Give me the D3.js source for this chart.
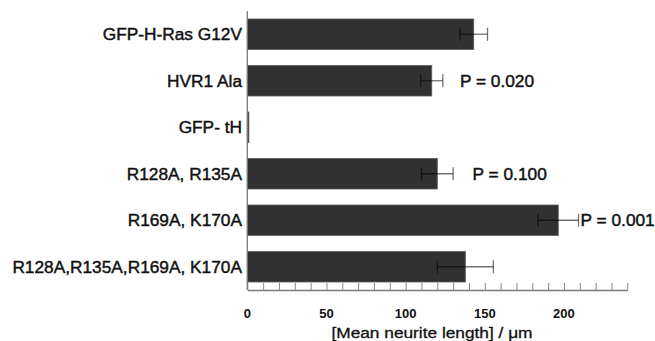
<!DOCTYPE html>
<html>
<head>
<meta charset="utf-8">
<script src="https://cdn.jsdelivr.net/npm/d3@7"></script>
<style>
html,body{margin:0;padding:0;background:#fff;}
svg{display:block;}
text{font-family:"Liberation Sans",Arial,Helvetica,sans-serif;fill:#111;}
</style>
</head>
<body>
<svg id="chart" width="655" height="341"></svg>
<script>
const categories = ["GFP-H-Ras G12V","HVR1 Ala","GFP- tH","R128A, R135A","R169A, K170A","R128A,R135A,R169A, K170A"];
const means = [143, 116.5, 1, 120, 196.4, 137.7];
const errors = [8.7, 7, 0, 10, 12.8, 17.7];
const pLabels = [null, "P = 0.020", null, "P = 0.100", "P = 0.001", null];
const pLabelAt = [null, 134.3, null, 142.3, 210.5, null];
const tickValues = d3.range(0, 241, 10);
const tickLabels = [0, 50, 100, 150, 200];
const axisTitle = "[Mean neurite length] / \u03bcm";

const svg = d3.select("#chart");
const x = d3.scaleLinear().domain([0, 240]).range([247.3, 627.3]);
const y = d3.scaleBand().domain(categories).range([11, 290]).paddingInner(0.344).paddingOuter(0.172);
const axisY = 290;

// bars
svg.append("g").selectAll("rect").data(categories).join("rect")
  .attr("x", x(0))
  .attr("y", d => y(d))
  .attr("width", (d,i) => Math.max(1.4, x(means[i]) - x(0)))
  .attr("height", y.bandwidth())
  .attr("fill", "#313131")
  .attr("stroke", "#5a5a5a")
  .attr("stroke-width", 0.8);

// error bars
const eg = svg.append("g").attr("stroke", "#000").attr("stroke-opacity", 0.55).attr("stroke-width", 1.3);
categories.forEach((c, i) => {
  if (!errors[i]) return;
  const cy = y(c) + y.bandwidth()/2;
  const x1 = x(means[i] - errors[i]), x2 = x(means[i] + errors[i]);
  eg.append("line").attr("x1", x1).attr("x2", x2).attr("y1", cy).attr("y2", cy);
  [x1, x2].forEach(xx => eg.append("line").attr("x1", xx).attr("x2", xx).attr("y1", cy - 6.5).attr("y2", cy + 6.5));
});

// bottom axis with inward ticks
const xAxis = d3.axisBottom(x).tickValues(tickValues).tickSizeInner(-7).tickSizeOuter(0).tickFormat("");
const ax = svg.append("g").attr("transform", `translate(0,${axisY})`).call(xAxis);
ax.select(".domain").attr("stroke", "#7a7a7a").attr("stroke-width", 1.3);
ax.selectAll(".tick line").attr("stroke", "#8a8a8a").attr("stroke-width", 1);

// left axis line
svg.append("line").attr("x1", x(0)).attr("x2", x(0)).attr("y1", 11).attr("y2", axisY)
  .attr("stroke", "#7a7a7a").attr("stroke-width", 1.3);

// tick labels
svg.append("g").selectAll("text").data(tickLabels).join("text")
  .attr("x", d => x(d)).attr("y", 318)
  .attr("text-anchor", "middle")
  .style("font-size", "13px").style("font-weight", "bold")
  .text(d => d);

// category labels
svg.append("g").selectAll("text").data(categories).join("text")
  .attr("x", 242)
  .attr("y", d => y(d) + y.bandwidth()/2)
  .attr("dy", "0.36em")
  .attr("text-anchor", "end")
  .style("font-size", "17.3px")
  .style("stroke", "#111").style("stroke-width", "0.45px")
  .text(d => d);

// p-value labels
svg.append("g").selectAll("text").data(categories.map((c,i)=>({c, t:pLabels[i], v:pLabelAt[i]})).filter(d=>d.t)).join("text")
  .attr("x", d => x(d.v))
  .attr("y", d => y(d.c) + y.bandwidth()/2)
  .attr("dy", "0.36em")
  .style("font-size", "17.3px")
  .style("stroke", "#111").style("stroke-width", "0.45px")
  .text(d => d.t);

// axis title
const sy = 0.82;
svg.append("g").attr("transform", `scale(1,${sy})`)
  .append("text")
  .attr("x", 432).attr("y", 338 / sy)
  .attr("text-anchor", "middle")
  .style("font-size", "17.3px")
  .style("stroke", "#111").style("stroke-width", "0.35px")
  .text(axisTitle);
</script>
</body>
</html>
